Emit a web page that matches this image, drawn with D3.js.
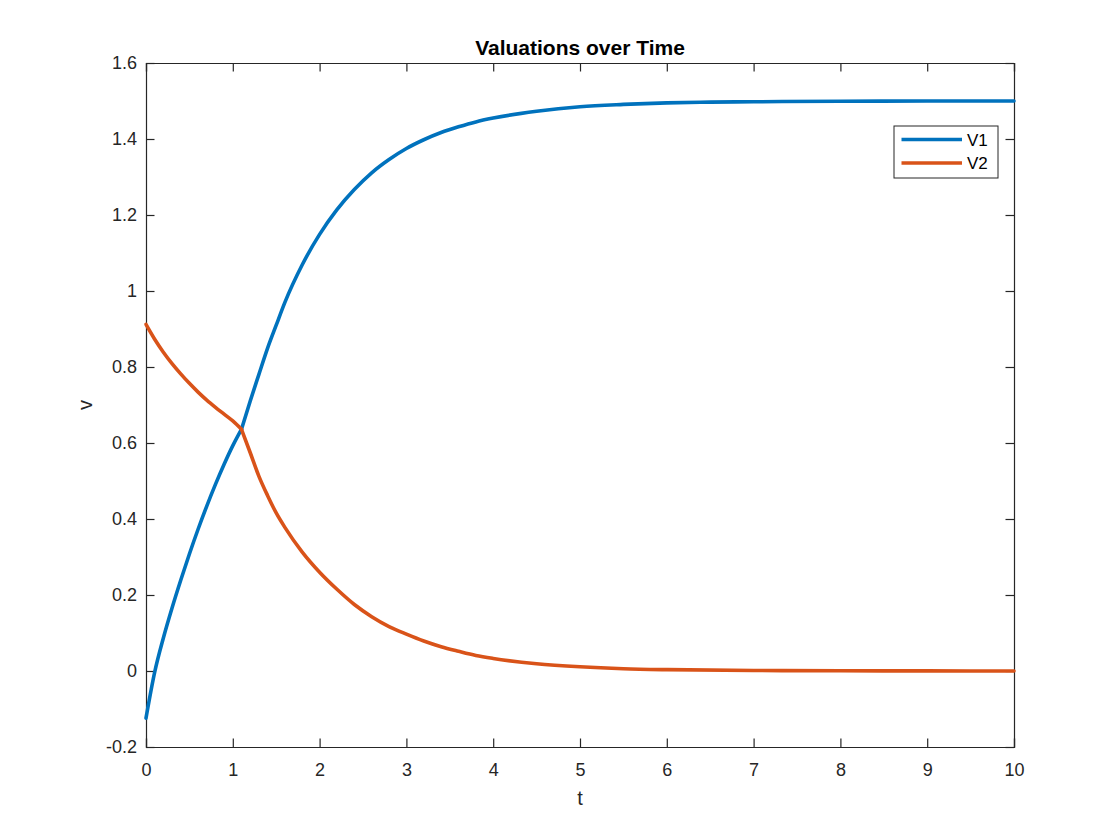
<!DOCTYPE html>
<html>
<head>
<meta charset="utf-8">
<script src="https://cdn.jsdelivr.net/npm/d3@7"></script>
<style>
  body { margin: 0; background: #fff; }
  svg { display: block; font-family: "Liberation Sans", Arial, Helvetica, sans-serif; }
</style>
</head>
<body>
<div id="chart"></div>
<script>
// values
var t1 = [0, 0.1, 0.2, 0.3, 0.4, 0.5, 0.6, 0.7, 0.8, 0.9, 1.0, 1.1,
          1.2, 1.3, 1.4, 1.5, 1.6, 1.8, 2.0, 2.2, 2.4, 2.6, 2.8, 3.0, 3.2, 3.4, 3.6, 3.8,
          4.0, 4.5, 5.0, 5.5, 6.0, 6.5, 7, 8, 9, 10];
var v1 = [-0.124, -0.003, 0.087, 0.166, 0.239, 0.308, 0.373, 0.434, 0.491, 0.544, 0.593, 0.636,
          0.71, 0.78, 0.849, 0.91, 0.97, 1.069, 1.149, 1.214, 1.267, 1.311, 1.346, 1.375, 1.398, 1.417, 1.432, 1.445,
          1.455, 1.473, 1.485, 1.491, 1.495, 1.497, 1.498, 1.4995, 1.4999, 1.5];
var t2 = [0, 0.1, 0.2, 0.3, 0.4, 0.5, 0.6, 0.7, 0.8, 0.9, 1.0, 1.1,
          1.2, 1.3, 1.4, 1.5, 1.6, 1.8, 2.0, 2.2, 2.4, 2.6, 2.8, 3.0, 3.2, 3.4, 3.6, 3.8,
          4.0, 4.5, 5.0, 5.5, 6.0, 7, 8, 9, 10];
var v2 = [0.912, 0.873, 0.839, 0.809, 0.782, 0.757, 0.734, 0.713, 0.694, 0.676, 0.658, 0.636,
          0.575, 0.513, 0.462, 0.416, 0.378, 0.313, 0.26, 0.215, 0.175, 0.143, 0.117, 0.097, 0.079, 0.064, 0.052, 0.041,
          0.033, 0.019, 0.011, 0.006, 0.0035, 0.0015, 0.0005, 0.0002, 0.0001];
var kinkT = 1.1; // where the two curves cross and bend
var seriesNames = ['V1', 'V2'];
var seriesColors = ['#0072BD', '#D95319'];
var xTicks = [0, 1, 2, 3, 4, 5, 6, 7, 8, 9, 10];
var yTicks = [-0.2, 0, 0.2, 0.4, 0.6, 0.8, 1, 1.2, 1.4, 1.6];

var width = 1120, height = 840;
var margin = {top: 63, right: 106, bottom: 93, left: 146};
var w = width - margin.left - margin.right;
var h = height - margin.top - margin.bottom;

var svg = d3.select('#chart').append('svg')
    .attr('width', width)
    .attr('height', height);

var g = svg.append('g')
    .attr('transform', 'translate(' + margin.left + ',' + margin.top + ')');

var x = d3.scaleLinear().domain([0, 10]).range([0, w]);
var y = d3.scaleLinear().domain([-0.2, 1.6]).range([h, 0]);

// axes with inward ticks, like matlab
var tickLen = 8.5;
var fmt = function(d) { return String(+d.toFixed(1)); };

var xAxis = g.append('g').attr('transform', 'translate(0,' + h + ')')
    .call(d3.axisBottom(x).tickValues(xTicks).tickSize(-tickLen).tickPadding(16).tickFormat(fmt));
var xTop = g.append('g')
    .call(d3.axisTop(x).tickValues(xTicks).tickSize(-tickLen).tickFormat(''));
var yAxis = g.append('g')
    .call(d3.axisLeft(y).tickValues(yTicks).tickSize(-tickLen).tickPadding(9).tickFormat(fmt));
var yRight = g.append('g').attr('transform', 'translate(' + w + ',0)')
    .call(d3.axisRight(y).tickValues(yTicks).tickSize(-tickLen).tickFormat(''));

[xAxis, xTop, yAxis, yRight].forEach(function(a) {
    a.select('.domain').attr('stroke', '#262626').attr('stroke-width', 1.2);
    a.selectAll('.tick line').attr('stroke', '#262626').attr('stroke-width', 1.2);
    a.selectAll('.tick text').attr('fill', '#262626').style('font-size', '18px');
});

// lines: smooth each side of the crossing, keep the bend there
var line = d3.line()
    .curve(d3.curveMonotoneX)
    .x(function(d) { return x(d[0]); })
    .y(function(d) { return y(d[1]); });

var series = [d3.zip(t1, v1), d3.zip(t2, v2)];
series.forEach(function(s, i) {
    var parts = [
        s.filter(function(d) { return d[0] <= kinkT; }),
        s.filter(function(d) { return d[0] >= kinkT; })
    ];
    parts.forEach(function(p) {
        g.append('path')
            .datum(p)
            .attr('fill', 'none')
            .attr('stroke', seriesColors[i])
            .attr('stroke-width', 3.6)
            .attr('stroke-linejoin', 'round')
            .attr('stroke-linecap', 'round')
            .attr('d', line);
    });
});

// title + labels
svg.append('text')
    .attr('x', margin.left + w / 2).attr('y', 55)
    .attr('text-anchor', 'middle')
    .style('font-size', '21px').style('font-weight', 'bold')
    .attr('fill', '#000')
    .text('Valuations over Time');

svg.append('text')
    .attr('x', margin.left + w / 2).attr('y', 805)
    .attr('text-anchor', 'middle')
    .style('font-size', '20px')
    .attr('fill', '#262626')
    .text('t');

svg.append('text')
    .attr('transform', 'translate(92,405) rotate(-90)')
    .attr('text-anchor', 'middle')
    .style('font-size', '20px')
    .attr('fill', '#262626')
    .text('v');

// legend
var lg = svg.append('g').attr('transform', 'translate(894,126)');
lg.append('rect')
    .attr('width', 104).attr('height', 52)
    .attr('fill', '#fff').attr('stroke', '#262626').attr('stroke-width', 1);
seriesNames.forEach(function(name, i) {
    var yy = 13.5 + i * 23.5;
    lg.append('line')
        .attr('x1', 7.5).attr('x2', 68).attr('y1', yy).attr('y2', yy)
        .attr('stroke', seriesColors[i]).attr('stroke-width', 3.6);
    lg.append('text')
        .attr('x', 73).attr('y', yy + 6)
        .style('font-size', '17px')
        .attr('fill', '#000')
        .text(name);
});
</script>
</body>
</html>
